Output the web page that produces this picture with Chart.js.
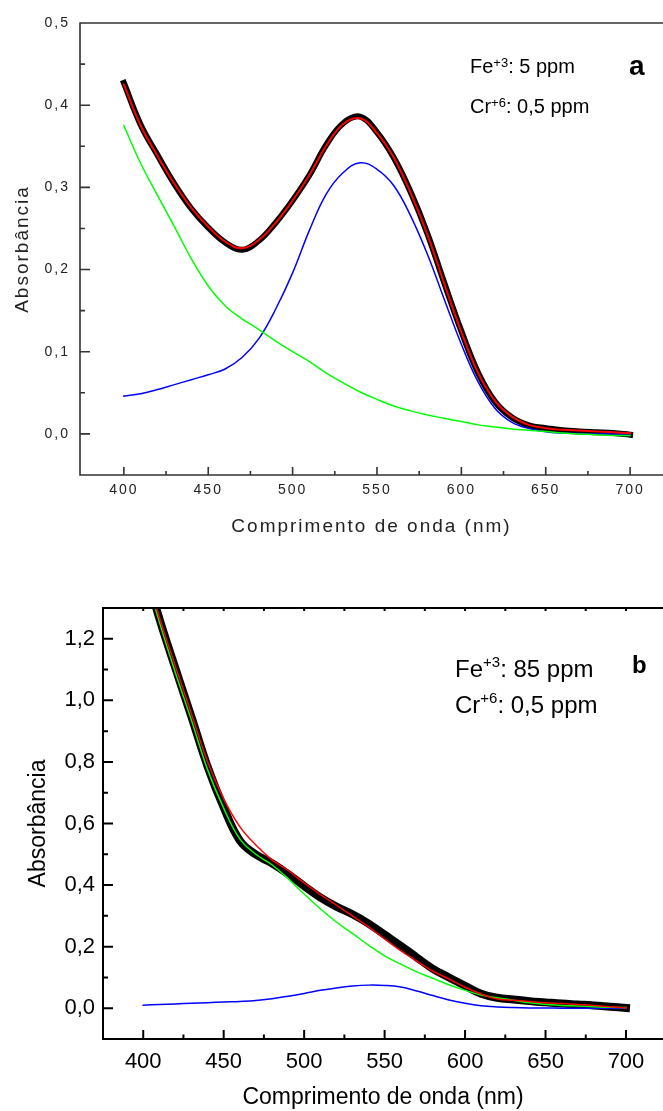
<!DOCTYPE html>
<html>
<head>
<meta charset="utf-8">
<script src="https://cdn.jsdelivr.net/npm/chart.js@4"></script>
<style>
  html, body { margin: 0; padding: 0; background: #fff; overflow: hidden; width: 663px; height: 1111px; }
  canvas { position: absolute; left: 0; }
  .nota { position: absolute; font-family: "Liberation Sans", Arial, sans-serif; white-space: nowrap; color: #000; }
  .nota sup { line-height: 0; }
  .a20 { font-size: 20px; line-height: 20px; }
  .a20 sup { font-size: 13px; vertical-align: 6px; }
  .b24 { font-size: 24px; line-height: 24px; }
  .b24 sup { font-size: 15px; vertical-align: 10px; }
</style>
</head>
<body>
<canvas id="graficoA" width="663" height="560" style="top:0"></canvas>
<canvas id="graficoB" width="663" height="551" style="top:560px"></canvas>

<div class="nota a20" style="left:470px; top:56px">Fe<sup>+3</sup>: 5 ppm</div>
<div class="nota a20" style="left:470px; top:96px">Cr<sup>+6</sup>: 0,5 ppm</div>
<div class="nota" style="left:629px; top:52px; font-size:28px; line-height:28px; font-weight:bold">a</div>

<div class="nota b24" style="left:455px; top:657px">Fe<sup>+3</sup>: 85 ppm</div>
<div class="nota b24" style="left:455px; top:693px">Cr<sup>+6</sup>: 0,5 ppm</div>
<div class="nota" style="left:632px; top:653px; font-size:24px; line-height:24px; font-weight:bold">b</div>

<script>
// comprimento de onda (nm)
const lambda = [400, 410, 420, 430, 440, 450, 460, 470, 480, 490, 500, 510, 520, 530, 540, 550,
                560, 570, 580, 590, 600, 610, 620, 630, 640, 650, 660, 670, 680, 690, 700];

// grafico a: Fe+3 5 ppm, Cr+6 0,5 ppm
const aMedido = [0.427, 0.376, 0.339, 0.304, 0.274, 0.251, 0.233, 0.224, 0.235, 0.257, 0.284, 0.315, 0.352, 0.378, 0.386, 0.367,
                 0.336, 0.294, 0.243, 0.183, 0.125, 0.074, 0.039, 0.020, 0.0105, 0.007, 0.0045, 0.003, 0.002, 0.001, -0.001];
const aAjuste = [0.425, 0.375, 0.338, 0.304, 0.275, 0.252, 0.234, 0.226, 0.236, 0.257, 0.284, 0.315, 0.351, 0.377, 0.384, 0.366,
                 0.336, 0.293, 0.242, 0.182, 0.124, 0.074, 0.040, 0.021, 0.011, 0.007, 0.005, 0.004, 0.003, 0.002, 0.001];
const aCromo  = [0.046, 0.049, 0.054, 0.060, 0.066, 0.072, 0.079, 0.093, 0.116, 0.152, 0.196, 0.248, 0.292, 0.318, 0.330, 0.322,
                 0.302, 0.265, 0.218, 0.163, 0.109, 0.063, 0.031, 0.014, 0.0065, 0.0025, 0.001, 0.0005, 0, 0, 0];
const aFerro  = [0.375, 0.329, 0.290, 0.252, 0.213, 0.180, 0.156, 0.140, 0.127, 0.113, 0.100, 0.088, 0.074, 0.062, 0.051, 0.042,
                 0.034, 0.028, 0.023, 0.019, 0.015, 0.011, 0.0085, 0.006, 0.0045, 0.003, 0.001, 0, -0.001, -0.002, -0.002];

// grafico b: Fe+3 85 ppm, Cr+6 0,5 ppm
const bMedido = [1.45, 1.266, 1.104, 0.946, 0.785, 0.652, 0.545, 0.499, 0.471, 0.436, 0.397, 0.360, 0.330, 0.305, 0.275, 0.239,
                 0.203, 0.165, 0.128, 0.100, 0.073, 0.047, 0.034, 0.028, 0.023, 0.019, 0.015, 0.012, 0.009, 0.005, 0.001];
const bAjuste = [1.45, 1.27, 1.11, 0.955, 0.80, 0.68, 0.59, 0.53, 0.482, 0.448, 0.407, 0.370, 0.335, 0.300, 0.264, 0.225,
                 0.187, 0.153, 0.120, 0.095, 0.068, 0.046, 0.030, 0.026, 0.022, 0.018, 0.015, 0.012, 0.009, 0.005, 0.001];
const bFerro  = [1.44, 1.255, 1.09, 0.935, 0.775, 0.65, 0.55, 0.50, 0.466, 0.421, 0.371, 0.323, 0.280, 0.243, 0.205, 0.170,
                 0.143, 0.118, 0.097, 0.076, 0.058, 0.043, 0.034, 0.026, 0.018, 0.013, 0.009, 0.007, 0.005, 0.003, 0.002];
const bCromo  = [0.010, 0.012, 0.014, 0.016, 0.018, 0.020, 0.022, 0.025, 0.031, 0.039, 0.048, 0.058, 0.066, 0.072, 0.075, 0.074,
                 0.069, 0.056, 0.041, 0.027, 0.016, 0.008, 0.004, 0.002, 0.001, 0.001, 0, 0, 0, 0, 0];

// marcas dos eixos
const xMarcas = [400, 450, 500, 550, 600, 650, 700];
const xMenores = [425, 475, 525, 575, 625, 675];
const xTopo = [400, 425, 450, 475, 500, 525, 550, 575, 600, 625, 650, 675, 700];
const aYMarcas = [0, 0.1, 0.2, 0.3, 0.4, 0.5];
const aYMenores = [-0.05, 0.05, 0.15, 0.25, 0.35, 0.45];
const bYMarcas = [0, 0.2, 0.4, 0.6, 0.8, 1.0, 1.2];
const bYMenores = [-0.1, 0.1, 0.3, 0.5, 0.7, 0.9, 1.1];

const pontos = vals => lambda.map((l, i) => ({ x: l, y: vals[i] }));
const virgula = v => v.toFixed(1).replace('.', ',');

// moldura com marcas para dentro, como no Origin
const molduraPlugin = {
  id: 'moldura',
  beforeLayout(chart, args, opts) { if (opts.espaco) chart.ctx.letterSpacing = opts.espaco; },
  beforeDraw(chart, args, opts) { if (opts.espaco) chart.ctx.letterSpacing = opts.espaco; },
  afterDatasetsDraw(chart, args, opts) {
    const { ctx, chartArea: a, scales: { x, y } } = chart;
    ctx.save();
    ctx.strokeStyle = opts.cor;
    ctx.lineWidth = opts.largura;
    ctx.lineCap = 'butt';
    ctx.beginPath();
    ctx.moveTo(a.right + 5, a.top);
    ctx.lineTo(a.left, a.top);
    ctx.lineTo(a.left, a.bottom);
    ctx.lineTo(a.right + 5, a.bottom);
    opts.yMaior.forEach(v => { const p = y.getPixelForValue(v); ctx.moveTo(a.left, p); ctx.lineTo(a.left + opts.yTam, p); });
    opts.yMenor.forEach(v => { const p = y.getPixelForValue(v); ctx.moveTo(a.left, p); ctx.lineTo(a.left + opts.yTam / 2, p); });
    opts.xMaior.forEach(v => { const p = x.getPixelForValue(v); ctx.moveTo(p, a.bottom); ctx.lineTo(p, a.bottom - opts.xTam); });
    opts.xMenor.forEach(v => { const p = x.getPixelForValue(v); ctx.moveTo(p, a.bottom); ctx.lineTo(p, a.bottom - opts.xTam / 2); });
    (opts.topo || []).forEach(v => { const p = x.getPixelForValue(v); ctx.moveTo(p, a.top); ctx.lineTo(p, a.top + 3); });
    ctx.stroke();
    ctx.restore();
  }
};

function serie(vals, cor, largura) {
  return {
    data: pontos(vals),
    borderColor: cor,
    borderWidth: largura,
    pointRadius: 0,
    tension: 0.4,
    borderCapStyle: 'square',
    borderJoinStyle: 'round',
    clip: 0
  };
}

function grafico(id, cfg) {
  const fonte = 'Liberation Sans, Arial, sans-serif';
  return new Chart(document.getElementById(id), {
    type: 'line',
    data: { datasets: cfg.series },
    plugins: [molduraPlugin],
    options: {
      responsive: false,
      animation: false,
      devicePixelRatio: 1,
      layout: { padding: { top: cfg.topo, left: 0, right: 0, bottom: 0 } },
      plugins: {
        legend: { display: false },
        tooltip: { enabled: false },
        moldura: cfg.moldura
      },
      scales: {
        x: {
          type: 'linear',
          min: cfg.xMin,
          max: cfg.xMax,
          afterBuildTicks: s => { s.ticks = xMarcas.map(v => ({ value: v })); },
          afterFit: s => { s.height = cfg.xAltura; },
          grid: { display: false, drawTicks: false },
          border: { display: false },
          ticks: {
            autoSkip: false, maxRotation: 0, padding: cfg.xPad, color: cfg.cor,
            font: { family: fonte, size: cfg.tickTam },
            callback: v => String(v)
          },
          title: {
            display: true, text: 'Comprimento de onda (nm)', color: cfg.cor,
            font: { family: fonte, size: cfg.tituloTam },
            padding: { top: 0, bottom: cfg.xTituloPad }
          }
        },
        y: {
          type: 'linear',
          min: cfg.yMin,
          max: cfg.yMax,
          afterBuildTicks: s => { s.ticks = cfg.yMarcas.map(v => ({ value: v })); },
          afterFit: s => { s.width = cfg.yLargura; },
          grid: { display: false, drawTicks: false },
          border: { display: false },
          ticks: {
            autoSkip: false, padding: cfg.yPad, color: cfg.cor,
            font: { family: fonte, size: cfg.tickTam },
            callback: v => virgula(v)
          },
          title: {
            display: true, text: 'Absorbância', color: cfg.cor,
            font: { family: fonte, size: cfg.tituloTam },
            padding: { top: cfg.yTituloPad, bottom: 0 }
          }
        }
      }
    }
  });
}

grafico('graficoA', {
  series: [
    serie(aAjuste, '#ff0000', 2),
    serie(aFerro, '#00ff00', 1.5),
    serie(aCromo, '#0000ff', 1.5),
    serie(aMedido, '#000000', 6)
  ],
  topo: 23, xMin: 374, xMax: 719.5, yMin: -0.05, yMax: 0.5,
  xAltura: 85, yLargura: 80, xPad: 7, yPad: 10,
  tickTam: 14, tituloTam: 19, xTituloPad: 22, yTituloPad: 11,
  cor: '#222', yMarcas: aYMarcas,
  moldura: { cor: '#333', largura: 1.6, espaco: '2px', yMaior: aYMarcas, yMenor: aYMenores,
             xMaior: xMarcas, xMenor: xMenores, yTam: 10, xTam: 8 }
});

grafico('graficoB', {
  series: [
    serie(bAjuste, '#ff0000', 1.5),
    serie(bFerro, '#00ff00', 1.5),
    serie(bCromo, '#0000ff', 1.5),
    serie(bMedido, '#000000', 8)
  ],
  topo: 48, xMin: 375, xMax: 723, yMin: -0.1, yMax: 1.3,
  xAltura: 72, yLargura: 103, xPad: 10, yPad: 8,
  tickTam: 22, tituloTam: 23, xTituloPad: 0, yTituloPad: 25,
  cor: '#000', yMarcas: bYMarcas,
  moldura: { cor: '#000', largura: 2, yMaior: bYMarcas, yMenor: bYMenores,
             xMaior: xMarcas, xMenor: xMenores, topo: xTopo, yTam: 10, xTam: 9 }
});
</script>
</body>
</html>
